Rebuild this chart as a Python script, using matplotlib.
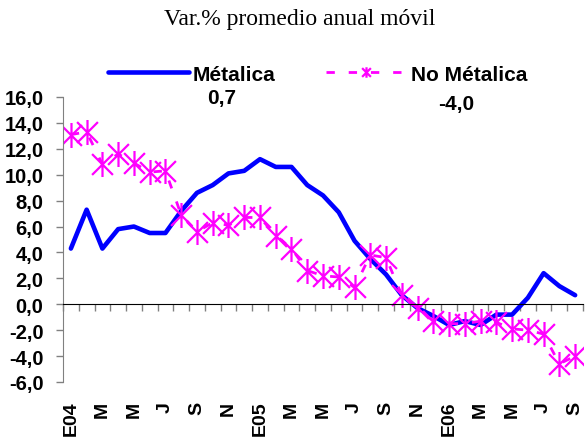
import matplotlib.pyplot as plt
from matplotlib.path import Path
import numpy as np

# media movil anual, variacion %, enero 2004 - septiembre 2006
meses = ['E04', '', 'M', '', 'M', '', 'J', '', 'S', '', 'N', '',
         'E05', '', 'M', '', 'M', '', 'J', '', 'S', '', 'N', '',
         'E06', '', 'M', '', 'M', '', 'J', '', 'S']
metalica = [4.3, 7.3, 4.3, 5.8, 6.0, 5.5, 5.5, 7.2, 8.6, 9.2, 10.1, 10.3,
            11.2, 10.6, 10.6, 9.2, 8.4, 7.1, 4.9, 3.5, 2.3, 0.7, -0.3, -0.9,
            -1.6, -1.3, -1.6, -0.8, -0.8, 0.5, 2.4, 1.4, 0.7]
no_metalica = [13.1, 13.3, 10.8, 11.6, 10.9, 10.2, 10.3, 6.9, 5.6, 6.3, 6.1, 6.7,
               6.7, 5.3, 4.3, 2.6, 2.2, 2.1, 1.3, 3.8, 3.6, 0.7, -0.3, -1.3,
               -1.5, -1.5, -1.3, -1.4, -1.9, -2.0, -2.3, -4.6, -4.0]
ult_metalica = '0,7'
ult_no_metalica = '-4,0'
yticks = [-6, -4, -2, 0, 2, 4, 6, 8, 10, 12, 14, 16]
ytick_labels = ['-6,0', '-4,0', '-2,0', '0,0', '2,0', '4,0', '6,0', '8,0',
                '10,0', '12,0', '14,0', '16,0']

plt.rcParams['font.family'] = ['Liberation Sans', 'DejaVu Sans']
plt.rcParams['font.weight'] = 'bold'

# asterisco: aspa + barra vertical
estrella = Path([(-1, -1), (1, 1), (-1, 1), (1, -1), (0, -1.2), (0, 1.2)],
                [Path.MOVETO, Path.LINETO, Path.MOVETO, Path.LINETO, Path.MOVETO, Path.LINETO])

x = np.arange(len(metalica))

fig = plt.figure(figsize=(5.85, 4.39), dpi=100)
ax = fig.add_axes([0.1077, 0.1276, 0.8889, 0.6492])

ax.plot(x, metalica, color='#0000FF', lw=3.3, label='Métalica', solid_capstyle='round')
ax.plot(x, no_metalica, color='#FF00FF', lw=2, linestyle=(0, (3, 5)),
        marker=estrella, markersize=18, markeredgewidth=1.6,
        markeredgecolor='#FF00FF', fillstyle='none', label='No Métalica')

ax.set_xlim(-0.5, len(x) - 0.5)
ax.set_ylim(-6, 16)

ax.spines['top'].set_visible(False)
ax.spines['right'].set_visible(False)
ax.spines['left'].set_color('#808080')
ax.spines['bottom'].set_position(('data', 0))
ax.spines['bottom'].set_color('black')

ax.set_yticks(yticks)
ax.set_yticklabels(ytick_labels, fontsize=14.5, fontweight='bold')
ax.tick_params(axis='y', direction='out', length=5, width=1, color='#808080', pad=9)

ax.set_xticks(np.arange(len(x) + 1) - 0.5)
ax.set_xticklabels([])
ax.tick_params(axis='x', direction='out', length=5, width=1, color='#808080')

for i, m in enumerate(meses):
    if m:
        ax.text(i, -0.066, m, transform=ax.get_xaxis_transform(), rotation=90,
                ha='center', va='top', fontsize=14, fontweight='bold')

fig.text(0.513, 0.955, 'Var.% promedio anual móvil', ha='center', va='center',
         fontsize=17, fontweight='normal', family='Liberation Serif')

leg = fig.legend(loc='center', bbox_to_anchor=(0.543, 0.829), ncol=2, frameon=False,
                 fontsize=15, handlelength=3.9, handletextpad=0.2, columnspacing=2.4,
                 markerscale=0.42)
fig.text(0.378, 0.776, ult_metalica, ha='center', va='center', fontsize=15, fontweight='bold')
fig.text(0.779, 0.761, ult_no_metalica, ha='center', va='center', fontsize=15, fontweight='bold')

fig.savefig('out.png', dpi=100)
